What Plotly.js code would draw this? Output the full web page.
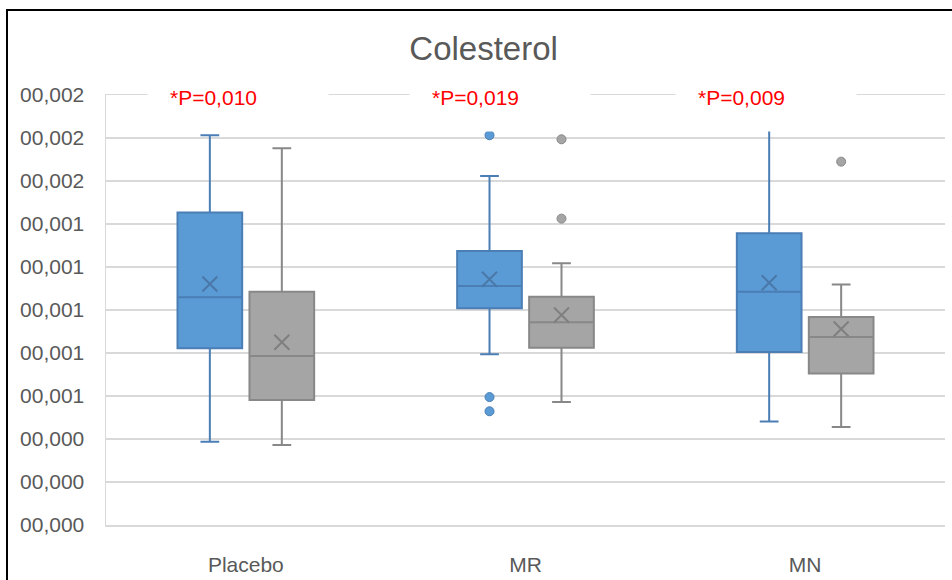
<!DOCTYPE html>
<html>
<head>
<meta charset="utf-8">
<script src="https://cdn.plot.ly/plotly-3.0.1.min.js"></script>
<style>
  html, body { margin: 0; padding: 0; background: #fff; overflow: hidden; }
  #chart { position: absolute; left: 0; top: 0; width: 952px; height: 580px; }
  #frame { position: absolute; left: 6px; top: 9px; width: 1200px; height: 1200px;
           border: 2px solid #000; pointer-events: none; }
</style>
</head>
<body>
<div id="chart"></div>
<div id="frame"></div>
<script>
// Groups on the horizontal axis
const categories = ['Placebo', 'MR', 'MN'];

// First series (blue boxes): five-number summary, mean and outliers per group
const s1Lower  = [0.000387, 0.000794, 0.000481];
const s1Q1     = [0.000822, 0.001008, 0.000805];
const s1Median = [0.001059, 0.001112, 0.001085];
const s1Q3     = [0.001453, 0.001274, 0.001357];
const s1Upper  = [0.001813, 0.001623, 0.001900];
const s1Mean   = [0.001121, 0.001143, 0.001127];
const s1Outliers = [[], [0.001813, 0.000595, 0.000529], []];

// Second series (grey boxes)
const s2Lower  = [0.000372, 0.000572, 0.000456];
const s2Q1     = [0.000581, 0.000825, 0.000705];
const s2Median = [0.000786, 0.000943, 0.000874];
const s2Q3     = [0.001085, 0.001062, 0.000967];
const s2Upper  = [0.001752, 0.001217, 0.001119];
const s2Mean   = [0.000850, 0.000977, 0.000912];
const s2Outliers = [[], [0.001794, 0.001425], [0.001690]];

// Significance labels above each group
const pLabels = ['*P=0,010', '*P=0,019', '*P=0,009'];

// Value axis ticks and their printed labels
const yTickVals = [0, 0.0002, 0.0004, 0.0006, 0.0008, 0.0010, 0.0012, 0.0014, 0.0016, 0.0018, 0.0020];
const yTickText = ['00,000', '00,000', '00,000', '00,001', '00,001', '00,001', '00,001', '00,001', '00,002', '00,002', '00,002'];

const FONT = 'Liberation Sans, Arial, sans-serif';
const TXT = '#595959';
const OFFSET = 0.1287;   // half distance between the two boxes of a group
const BOXW = 0.2313;     // box width in category units

const idx = categories.map((_, i) => i);

function boxTrace(shift, lower, q1, med, q3, upper, fill, line) {
  return {
    type: 'box',
    x: idx.map(i => i + shift),
    lowerfence: lower, q1: q1, median: med, q3: q3, upperfence: upper,
    width: BOXW,
    whiskerwidth: 0.29,
    boxpoints: false,
    fillcolor: fill,
    line: { color: line, width: 2 },
    hoverinfo: 'skip',
    showlegend: false
  };
}

function meanTrace(shift, means, color) {
  return {
    type: 'scatter', mode: 'markers',
    x: idx.map(i => i + shift), y: means,
    marker: { symbol: 'x-thin', size: 15, line: { color: color, width: 2 } },
    hoverinfo: 'skip', showlegend: false
  };
}

function outlierTrace(shift, outs, fill, line) {
  const xs = [], ys = [];
  outs.forEach((list, i) => list.forEach(v => { xs.push(i + shift); ys.push(v); }));
  return {
    type: 'scatter', mode: 'markers', x: xs, y: ys,
    marker: { symbol: 'circle', size: 9, color: fill, line: { color: line, width: 1 } },
    hoverinfo: 'skip', showlegend: false
  };
}

const traces = [
  boxTrace(-OFFSET, s1Lower, s1Q1, s1Median, s1Q3, s1Upper, '#5B9BD5', '#4A7EB5'),
  boxTrace(+OFFSET, s2Lower, s2Q1, s2Median, s2Q3, s2Upper, '#A5A5A5', '#888888'),
  meanTrace(-OFFSET, s1Mean, '#4A78A8'),
  meanTrace(+OFFSET, s2Mean, '#7F7F7F'),
  outlierTrace(-OFFSET, s1Outliers, '#5B9BD5', '#4A7EB5'),
  outlierTrace(+OFFSET, s2Outliers, '#A5A5A5', '#888888')
];

// Text boxes holding the p-values, positioned along the top of the plot
const pBoxX = [0.1573, 0.4696, 0.7872];
const annotations = pLabels.map((t, i) => ({
  text: t, xref: 'paper', yref: 'paper', x: pBoxX[i], y: 0.9953,
  xanchor: 'center', yanchor: 'middle', align: 'left', valign: 'middle',
  width: 136, height: 24, borderpad: 22, bgcolor: '#ffffff',
  showarrow: false, font: { family: FONT, size: 21, color: '#FF0000' }
}));

const layout = {
  width: 952, height: 580,
  margin: { l: 106, r: 7, t: 95, b: 55 },
  paper_bgcolor: '#ffffff', plot_bgcolor: '#ffffff',
  title: {
    text: 'Colesterol', xref: 'container', yref: 'container',
    x: 0.508, xanchor: 'center', y: 0.917, yanchor: 'middle',
    font: { family: FONT, size: 33, color: TXT }
  },
  xaxis: {
    range: [-0.5, 2.5], tickmode: 'array', tickvals: idx, ticktext: categories,
    showgrid: false, zeroline: false, showline: true, mirror: true,
    linecolor: '#D9D9D9', linewidth: 1.5, ticks: '', ticklabelstandoff: 20,
    tickfont: { family: FONT, size: 21, color: TXT }, fixedrange: true
  },
  yaxis: {
    range: [0, 0.0020], tickmode: 'array', tickvals: yTickVals, ticktext: yTickText,
    showgrid: true, gridcolor: '#D9D9D9', gridwidth: 1.5, zeroline: false,
    showline: true, linecolor: '#D9D9D9', linewidth: 1.5, ticks: '', ticklabelstandoff: 16,
    tickfont: { family: FONT, size: 21, color: TXT }, fixedrange: true
  },
  annotations: annotations,
  showlegend: false
};

Plotly.newPlot('chart', traces, layout, { staticPlot: true, displayModeBar: false });
</script>
</body>
</html>
